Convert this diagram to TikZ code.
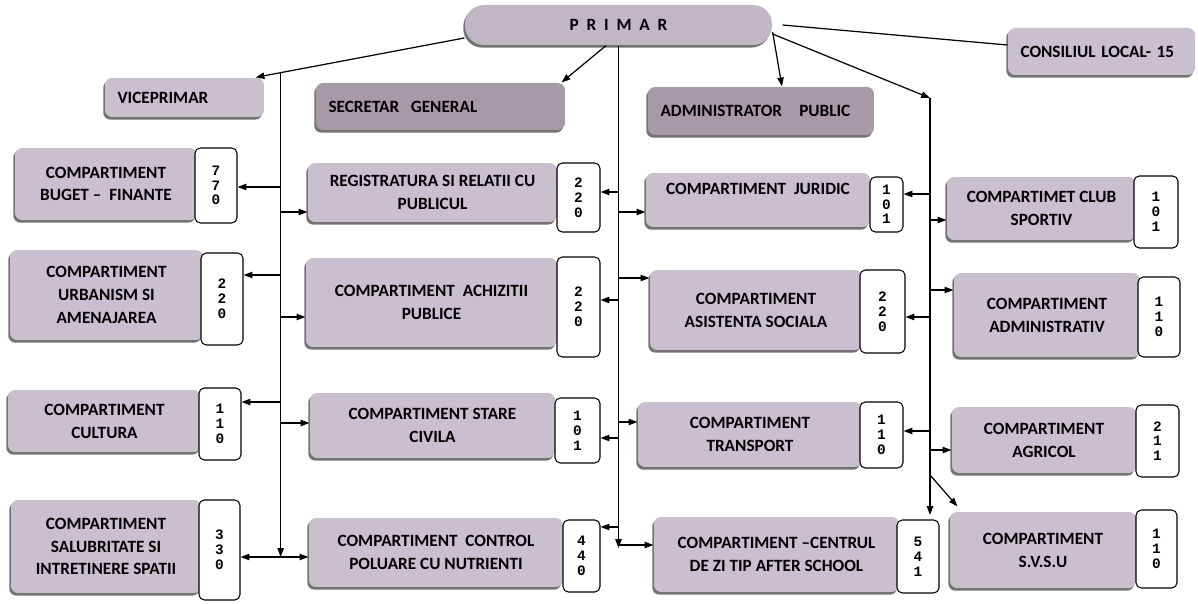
\documentclass[tikz,border=0pt]{standalone}
\usepackage{fontspec}
\setmainfont{Carlito}
\newfontfamily\digitfont{Liberation Mono}
\usetikzlibrary{arrows.meta,shadows}
\definecolor{deptfill}{RGB}{201,191,206}
\definecolor{primfill}{RGB}{192,182,198}
\definecolor{headfill}{RGB}{168,153,166}

\begin{document}
\begin{tikzpicture}[x=0.02cm,y=-0.02cm,line width=0.7pt,>={Triangle[length=5pt,width=3.6pt]}]
\tikzstyle{dept} = [rectangle, rounded corners=4pt, fill=deptfill, align=center, font=\bfseries\fontsize{9.8}{13}\selectfont, drop shadow={shadow xshift=-1pt, shadow yshift=-1.5pt, fill=black!55, opacity=1}]
\tikzstyle{head} = [dept, align=left, inner xsep=0.25cm]
\tikzstyle{headdark} = [head, fill=headfill]
\tikzstyle{mayor} = [dept, fill=primfill, rounded corners=0.38cm]
\tikzstyle{count} = [rectangle, rounded corners=3pt, fill=white, draw=black, line width=0.6pt, align=center, inner sep=1pt, font=\digitfont\bfseries\fontsize{8.2}{8.4}\selectfont]

\useasboundingbox (0,0) rectangle (1198,604);

% conducere
\node(primar) [mayor, minimum width=6.14cm, minimum height=0.8cm] at (618.5,25) {P\ \ R\ \ I\ \ M\ \ A\ \ R};
\node(consiliul) [head, text width=3.24cm, minimum height=0.94cm] at (1101.5,51.5) {CONSILIUL LOCAL- 15};
\node(vice) [head, text width=2.68cm, minimum height=0.78cm] at (184.5,97.5) {VICEPRIMAR};
\node(secretar) [headdark, text width=4.48cm, minimum height=0.94cm] at (440.5,106.5) {SECRETAR\ \ GENERAL};
\node(admin) [headdark, text width=4.02cm, minimum height=0.96cm] at (761,111) {ADMINISTRATOR\ \ \ PUBLIC};

% coloana 1
\node(buget) [dept, minimum width=3.64cm, minimum height=1.44cm] at (106,184) {COMPARTIMENT\\BUGET --\ \ FINANTE};
\node(nBuget) [count, minimum width=0.84cm, minimum height=1.5cm] at (216,185.5) {7\\7\\0};
\node(urbanism) [dept, minimum width=3.86cm, minimum height=1.8cm] at (106.5,295) {COMPARTIMENT\\URBANISM SI\\AMENAJAREA};
\node(nUrban) [count, minimum width=0.84cm, minimum height=1.84cm] at (222,299) {2\\2\\0};
\node(cultura) [dept, minimum width=3.86cm, minimum height=1.24cm] at (104.5,421) {COMPARTIMENT\\CULTURA};
\node(nCultura) [count, minimum width=0.84cm, minimum height=1.44cm] at (220,424) {1\\1\\0};
\node(salubr) [dept, minimum width=3.8cm, minimum height=1.86cm] at (106,546.5) {COMPARTIMENT\\SALUBRITATE SI\\INTRETINERE SPATII};
\node(nSalubr) [count, minimum width=0.82cm, minimum height=2cm] at (219.5,550) {3\\3\\0};

% coloana 2
\node(registr) [dept, minimum width=4.98cm, minimum height=1.18cm] at (432.5,192.5) {REGISTRATURA SI RELATII CU\\PUBLICUL};
\node(nRegistr) [count, minimum width=0.86cm, minimum height=1.38cm] at (578.5,197.5) {2\\2\\0};
\node(achiz) [dept, minimum width=5.02cm, minimum height=1.78cm] at (431.5,302.5) {COMPARTIMENT\ \ ACHIZITII\\PUBLICE};
\node(nAchiz) [count, minimum width=0.86cm, minimum height=2cm] at (578.5,307) {2\\2\\0};
\node(stare) [dept, minimum width=4.9cm, minimum height=1.3cm] at (432.5,425.5) {COMPARTIMENT STARE\\CIVILA};
\node(nStare) [count, minimum width=0.9cm, minimum height=1.3cm] at (577.5,430.5) {1\\0\\1};
\node(control) [dept, minimum width=5.08cm, minimum height=1.38cm] at (436,552.5) {COMPARTIMENT\ \ CONTROL\\POLUARE CU NUTRIENTI};
\node(nControl) [count, minimum width=0.74cm, minimum height=1.44cm] at (581.5,556) {4\\4\\0};

% coloana 3
\node(juridic) [dept, minimum width=4.48cm, minimum height=1.08cm] at (758,200) {COMPARTIMENT\ \ JURIDIC\\\mbox{}};
\node(nJuridic) [count, minimum width=0.66cm, minimum height=1.1cm] at (886.5,204.5) {1\\0\\1};
\node(asistenta) [dept, minimum width=4.24cm, minimum height=1.6cm] at (756,310) {COMPARTIMENT\\ASISTENTA SOCIALA};
\node(nAsist) [count, minimum width=0.9cm, minimum height=1.66cm] at (882.5,311.5) {2\\2\\0};
\node(transport) [dept, minimum width=4.48cm, minimum height=1.3cm] at (750,434.5) {COMPARTIMENT\\TRANSPORT};
\node(nTransp) [count, minimum width=0.86cm, minimum height=1.32cm] at (881.5,435) {1\\1\\0};
\node(centrul) [dept, minimum width=4.9cm, minimum height=1.5cm] at (776.5,554.5) {COMPARTIMENT --CENTRUL\\DE ZI TIP AFTER SCHOOL};
\node(nCentrul) [count, minimum width=0.84cm, minimum height=1.46cm] at (918,556.5) {5\\4\\1};

% coloana 4
\node(club) [dept, minimum width=3.78cm, minimum height=1.26cm] at (1041.5,208.5) {COMPARTIMET CLUB\\SPORTIV};
\node(nClub) [count, minimum width=0.88cm, minimum height=1.44cm] at (1156,212) {1\\0\\1};
\node(administrativ) [dept, minimum width=3.72cm, minimum height=1.68cm] at (1047,315) {COMPARTIMENT\\ADMINISTRATIV};
\node(nAdmin) [count, minimum width=0.84cm, minimum height=1.6cm] at (1159,317) {1\\1\\0};
\node(agricol) [dept, minimum width=3.68cm, minimum height=1.32cm] at (1044,440) {COMPARTIMENT\\AGRICOL};
\node(nAgricol) [count, minimum width=0.86cm, minimum height=1.44cm] at (1157.5,441) {2\\1\\1};
\node(svsu) [dept, minimum width=3.72cm, minimum height=1.52cm] at (1043,550) {COMPARTIMENT\\S.V.S.U};
\node(nSvsu) [count, minimum width=0.82cm, minimum height=1.56cm] at (1156.5,549) {1\\1\\0};

% legaturi primar
\coordinate (busC) at (930,98);
\draw[->] ([yshift=-0.26cm]primar.west) -- coordinate[pos=0.88] (busA) ([xshift=-0.18cm]vice.north east);
\draw[->] ([xshift=-0.25cm]primar.south) -- ([xshift=-0.08cm]secretar.north east);
\draw[->] ([yshift=-0.14cm]primar.east) -- ([xshift=0.42cm]admin.north);
\draw[->] ([yshift=-0.18cm]primar.east) -- (busC);
\draw ([xshift=0.2cm]primar.east) -- ([yshift=0.13cm]consiliul.west);

% linia viceprimarului
\draw[->] (busA) -- (busA |- 0,557);
\draw[->] (busA |- 0,187) -- (nBuget.east |- 0,187);
\draw[->] (busA |- 0,212) -- (registr.west |- 0,212);
\draw[->] (busA |- 0,275) -- (nUrban.east |- 0,275);
\draw[->] (busA |- 0,317) -- (achiz.west |- 0,317);
\draw[->] (busA |- 0,402) -- (nCultura.east |- 0,402);
\draw[->] (busA |- 0,423) -- (stare.west |- 0,423);
\draw[->] (busA |- 0,557) -- (nSalubr.east |- 0,557);
\draw[->] (busA |- 0,557) -- (control.west |- 0,557);

% linia primarului
\draw[->] (primar.south) -- (primar.south |- 0,548);
\draw[->] (primar.south |- 0,192) -- (nRegistr.east |- 0,192);
\draw[->] (primar.south |- 0,212) -- (juridic.west |- 0,212);
\draw[->] (primar.south |- 0,278) -- (asistenta.west |- 0,278);
\draw[->] (primar.south |- 0,300) -- (nAchiz.east |- 0,300);
\draw[->] (primar.south |- 0,422) -- (transport.west |- 0,422);
\draw[->] (primar.south |- 0,438) -- (nStare.east |- 0,438);
\draw[->] (primar.south |- 0,527) -- (nControl.east |- 0,527);
\draw[->] (primar.south |- 0,545) -- (centrul.west |- 0,545);

% linia din dreapta
\draw[->] (busC) -- (busC |- 0,515);
\draw[->] (busC |- 0,194) -- (nJuridic.east |- 0,194);
\draw[->] (busC |- 0,220) -- (club.west |- 0,220);
\draw[->] (busC |- 0,290) -- (administrativ.west |- 0,290);
\draw[->] (busC |- 0,317) -- (nAsist.east |- 0,317);
\draw[->] (busC |- 0,431) -- (nTransp.east |- 0,431);
\draw[->] (busC |- 0,450) -- (agricol.west |- 0,450);
\draw[->] (busC |- 0,475) -- ([xshift=0.16cm,yshift=0.1cm]svsu.north west);
\end{tikzpicture}
\end{document}
